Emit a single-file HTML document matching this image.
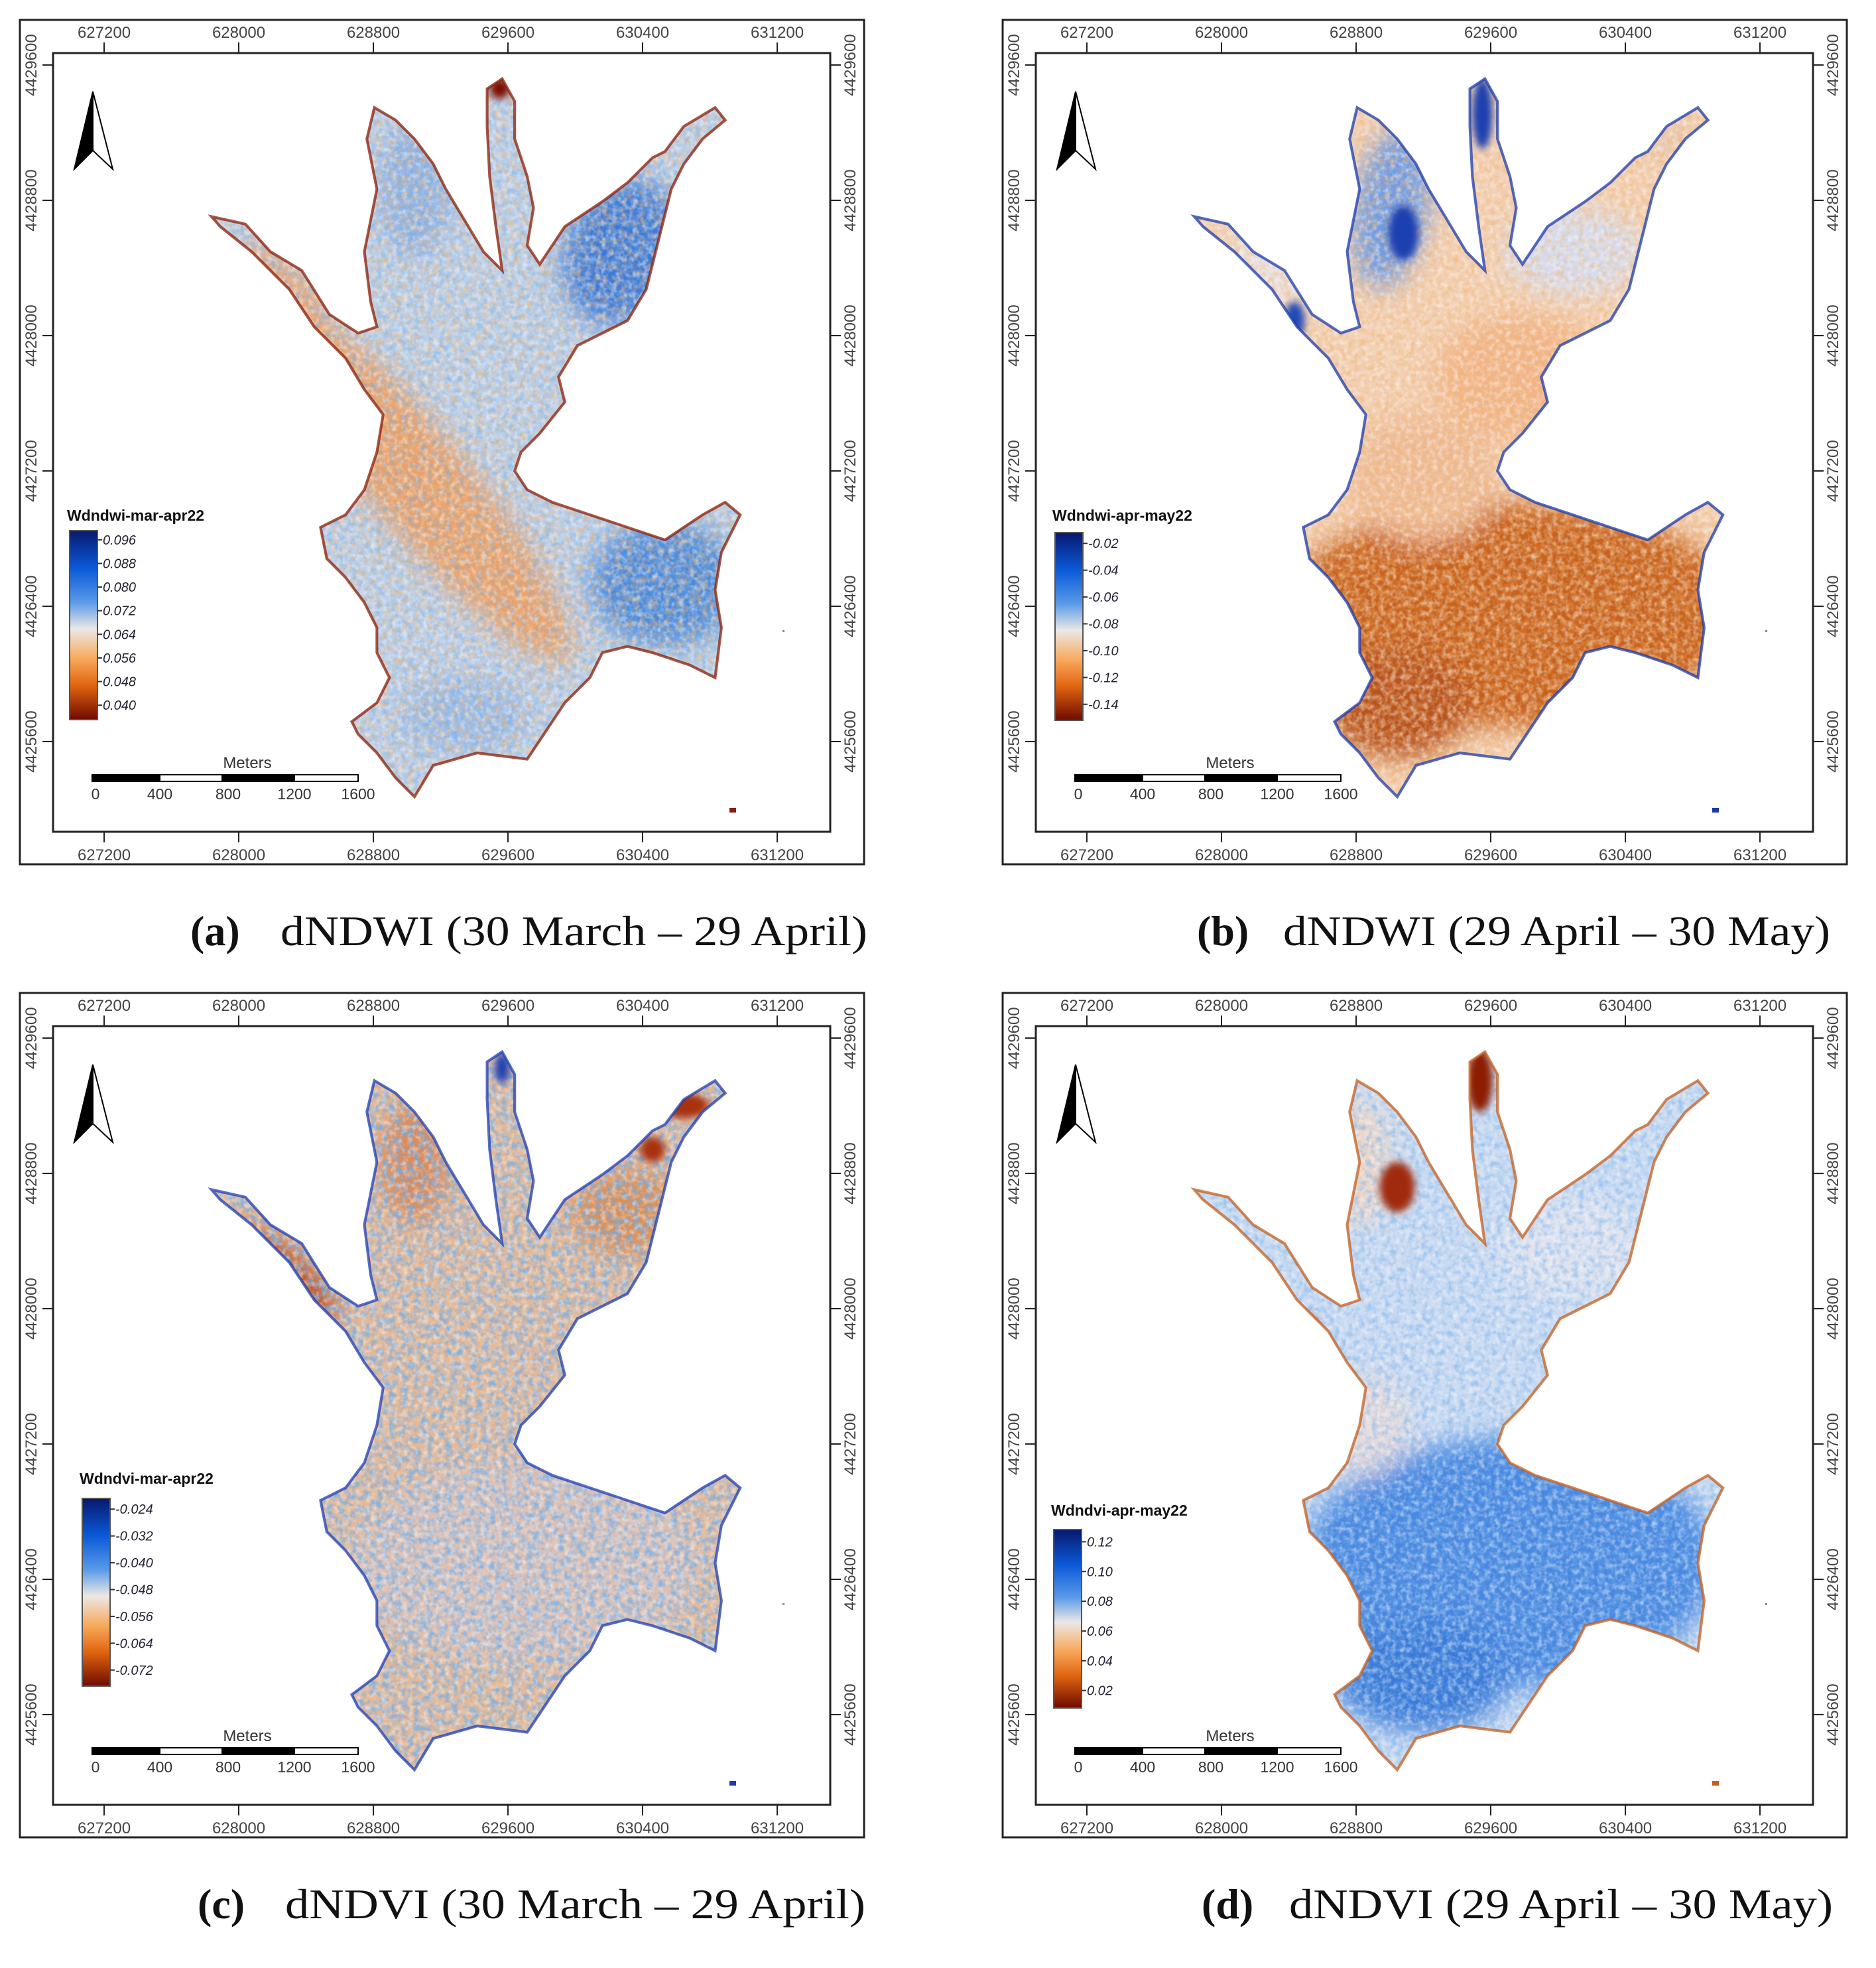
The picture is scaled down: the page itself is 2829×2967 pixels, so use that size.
<!DOCTYPE html>
<html><head><meta charset="utf-8"><style>
html,body{margin:0;padding:0;background:#fff}
svg{display:block}
text{font-family:"Liberation Sans",sans-serif}
.cap{font-family:"Liberation Serif",serif;font-size:64px;fill:#111}
</style></head><body>
<svg id="fig" width="2829" height="2967" viewBox="0 0 2829 2967" xmlns="http://www.w3.org/2000/svg">
<defs>
<filter id="blur" x="-50%" y="-50%" width="200%" height="200%"><feGaussianBlur stdDeviation="10"/></filter>
<filter id="blurS" x="-50%" y="-50%" width="200%" height="200%"><feGaussianBlur stdDeviation="3"/></filter>
<filter id="nBlue" x="0" y="0" width="100%" height="100%"><feTurbulence type="fractalNoise" baseFrequency="0.2" numOctaves="2" seed="3"/><feColorMatrix values="0 0 0 0 0.15 0 0 0 0 0.42 0 0 0 0 0.85 2.6 0 0 0 -1.05"/></filter>
<filter id="nOrange" x="0" y="0" width="100%" height="100%"><feTurbulence type="fractalNoise" baseFrequency="0.2" numOctaves="2" seed="9"/><feColorMatrix values="0 0 0 0 0.9 0 0 0 0 0.45 0 0 0 0 0.15 2.6 0 0 0 -1.05"/></filter>
<filter id="nWhite" x="0" y="0" width="100%" height="100%"><feTurbulence type="fractalNoise" baseFrequency="0.24" numOctaves="2" seed="17"/><feColorMatrix values="0 0 0 0 0.97 0 0 0 0 0.97 0 0 0 0 0.97 2.4 0 0 0 -1.0"/></filter>
<linearGradient id="cbar" x1="0" y1="0" x2="0" y2="1">
<stop offset="0" stop-color="#08186e"/><stop offset="0.2" stop-color="#0a5ad8"/><stop offset="0.38" stop-color="#5a9ae8"/><stop offset="0.52" stop-color="#ece8e6"/><stop offset="0.68" stop-color="#f7a85a"/><stop offset="0.82" stop-color="#e06410"/><stop offset="1" stop-color="#6e0a00"/>
</linearGradient>
</defs>
</svg>
<script>
// ---- data ----
const xTickLabels=["627200","628000","628800","629600","630400","631200"];
const yTickLabels=["4429600","4428800","4428000","4427200","4426400","4425600"];
const scaleLabels=["0","400","800","1200","1600"];
const legendTitles=["Wdndwi-mar-apr22","Wdndwi-apr-may22","Wdndvi-mar-apr22","Wdndvi-apr-may22"];
const legendA=["0.096","0.088","0.080","0.072","0.064","0.056","0.048","0.040"];
const legendB=["-0.02","-0.04","-0.06","-0.08","-0.10","-0.12","-0.14"];
const legendC=["-0.024","-0.032","-0.040","-0.048","-0.056","-0.064","-0.072"];
const legendD=["0.12","0.10","0.08","0.06","0.04","0.02"];
const capLetters=["(a)","(b)","(c)","(d)"];
const capTexts=["dNDWI (30 March \u2013 29 April)","dNDWI (29 April \u2013 30 May)","dNDVI (30 March \u2013 29 April)","dNDVI (29 April \u2013 30 May)"];

const NS="http://www.w3.org/2000/svg";
const svg=document.getElementById('fig');
function mk(tag,attrs,parent){const e=document.createElementNS(NS,tag);for(const k in attrs)e.setAttribute(k,attrs[k]);(parent||svg).appendChild(e);return e;}

const lake=[[168,172],[195,178],[215,200],[240,215],[262,250],[285,265],[300,260],[295,240],[290,200],[300,150],[292,110],[298,85],[315,95],[330,110],[345,130],[355,150],[370,175],[385,200],[400,215],[395,180],[390,140],[388,100],[388,70],[400,62],[410,80],[410,110],[420,140],[425,165],[420,195],[430,210],[450,180],[480,160],[500,145],[520,125],[530,120],[545,100],[570,85],[578,95],[560,110],[545,130],[535,150],[525,190],[515,230],[500,255],[480,265],[460,275],[445,300],[450,320],[430,345],[415,360],[410,375],[420,390],[440,400],[470,410],[500,420],[530,430],[560,410],[578,400],[590,410],[575,440],[570,470],[575,500],[570,540],[550,530],[520,520],[500,515],[480,520],[470,540],[450,560],[430,590],[420,605],[380,600],[345,610],[330,635],[315,620],[300,600],[285,585],[280,575],[300,560],[310,540],[300,520],[300,500],[290,480],[275,460],[260,445],[255,420],[275,410],[290,390],[300,360],[305,330],[290,310],[275,285],[250,260],[230,230],[200,200],[175,180]];
const lakePts=lake.map(p=>p.join(',')).join(' ');

const panels=[
 {dx:0,dy:0,base:'#bcd0ea',edge:'#8a1c06',noise:['nBlue','nOrange','nWhite'],
  blobs:[[495,200,45,60,20,'#3a78d8'],[530,465,60,50,0,'#4a88dc'],[330,380,190,40,50,'#eaa06a'],[225,225,45,15,40,'#e4a47c'],[370,570,50,30,0,'#9cbce8'],[330,150,28,55,0,'#8fb2e6']],
  spots:[[398,70,8,8,'#7a0c00']]},
 {dx:1482,dy:0,base:'#f2cfb2',edge:'#1a3aa8',noise:['nOrange','nWhite'],
  blobs:[[325,165,30,65,10,'#6f9ce4'],[470,200,55,35,0,'#d5dcef'],[230,210,40,20,40,'#e6e2e6'],[430,300,70,50,0,'#f1b58a'],[420,490,185,90,0,'#c8621e'],[330,560,60,45,0,'#b8521a'],[350,380,60,50,0,'#eebb96'],[545,110,25,15,0,'#e8c8b0']],
  spots:[[398,90,8,28,'#1c3fb0'],[335,185,12,22,'#1c3fb0'],[248,255,8,15,'#2048b8']]},
 {dx:0,dy:1467,base:'#e2b898',edge:'#1e3cb0',noise:['nBlue','nBlue','nWhite'],
  blobs:[[225,240,55,20,40,'#c0501e'],[330,150,28,50,0,'#dc8a58'],[500,190,45,35,0,'#dc9058'],[420,470,140,80,0,'#dcc0b4']],
  spots:[[400,75,6,12,'#2040b0'],[545,105,20,10,'#a8300c'],[520,140,10,10,'#a8300c']]},
 {dx:1482,dy:1467,base:'#cadaf1',edge:'#c25e1e',noise:['nBlue','nWhite'],
  blobs:[[420,470,165,100,0,'#4a88e0'],[350,560,70,45,0,'#3a7ad8'],[300,150,25,50,0,'#ecd6c8'],[470,220,60,40,0,'#dfe2ee'],[300,360,40,40,0,'#e6dada']],
  spots:[[396,85,10,25,'#8e1c06'],[330,170,14,20,'#a02c10'],[258,290,10,18,'#8e1e0a'],[262,320,8,12,'#2050c0']]}
];

panels.forEach((P,pi)=>{
  const g=mk('g',{transform:`translate(${P.dx},${P.dy})`});
  
  
  const of=mk('rect',{x:30,y:30,width:1273,height:1273,fill:'none',stroke:'#222','stroke-width':3},g);
  
  
  const mg=mk('g',{transform:'translate(30,30) scale(1.889) translate(-15,-15)'},g);
  
  
  const cp=mk('clipPath',{id:'clip'+pi},mg);
  mk('polygon',{points:lakePts},cp);
  const cg=mk('g',{'clip-path':`url(#clip${pi})`},mg);
  mk('rect',{x:150,y:50,width:460,height:600,fill:P.base},cg);
  const bg=mk('g',{filter:'url(#blur)'},cg);
  P.blobs.forEach(b=>{mk('ellipse',{cx:b[0],cy:b[1],rx:b[2],ry:b[3],fill:b[5],transform:`rotate(${b[4]} ${b[0]} ${b[1]})`},bg);});
  P.noise.forEach(n=>{mk('rect',{x:150,y:50,width:460,height:600,filter:`url(#${n})`,opacity:0.5},cg);});
  const sg=mk('g',{filter:'url(#blurS)'},cg);
  P.spots.forEach(s=>{mk('ellipse',{cx:s[0],cy:s[1],rx:s[2],ry:s[3],fill:s[4]},sg);});
  const outline=mk('polygon',{points:lakePts,fill:'none',stroke:P.edge,'stroke-width':2.2,opacity:0.75},mg);
  
  
  const inf=mk('rect',{x:80,y:80,width:1172,height:1174,fill:'none',stroke:'#222','stroke-width':3},g);
  
  
  xTickLabels.forEach((l,i)=>{
    const x=157+203*i;
    mk('line',{x1:x,y1:64,x2:x,y2:80,stroke:'#222','stroke-width':2},g);
    mk('line',{x1:x,y1:1254,x2:x,y2:1270,stroke:'#222','stroke-width':2},g);
    const t1=mk('text',{x:x,y:57,'font-size':24,'text-anchor':'middle',fill:'#444'},g);t1.textContent=l;
    
    
    const t2=mk('text',{x:x,y:1297,'font-size':24,'text-anchor':'middle',fill:'#444'},g);t2.textContent=l;
    
    
  });
  yTickLabels.forEach((l,i)=>{
    const y=98+204*i;
    mk('line',{x1:64,y1:y,x2:80,y2:y,stroke:'#222','stroke-width':2},g);
    mk('line',{x1:1252,y1:y,x2:1268,y2:y,stroke:'#222','stroke-width':2},g);
    const t1=mk('text',{x:0,y:0,'font-size':24,'text-anchor':'middle',fill:'#444',transform:`translate(55 ${y}) rotate(-90)`},g);t1.textContent=l;
    
    
    const t2=mk('text',{x:0,y:0,'font-size':24,'text-anchor':'middle',fill:'#444',transform:`translate(1290 ${y}) rotate(-90)`},g);t2.textContent=l;
    
    
  });
  const na=mk('g',{},g);
  
  
  mk('polygon',{points:'140,138 112,255 140,227',fill:'#000',stroke:'#000','stroke-width':2},na);
  mk('polygon',{points:'140,138 170,255 140,227',fill:'#fff',stroke:'#000','stroke-width':2},na);
  const sb=mk('g',{},g);
  
  
  const segs=[[139,241,'#000'],[241,335,'#fff'],[335,444,'#000'],[444,540,'#fff']];
  segs.forEach(s=>mk('rect',{x:s[0],y:1168,width:s[1]-s[0],height:10,fill:s[2],stroke:'#000','stroke-width':2},sb));
  const mt=mk('text',{x:373,y:1158,'font-size':24,'text-anchor':'middle',fill:'#333'},sb);mt.textContent='Meters';
  const sx=[139,241,344,444,540];
  scaleLabels.forEach((l,i)=>{const t=mk('text',{x:sx[i]+(i==0?5:0),y:1205,'font-size':23,'text-anchor':'middle',fill:'#333'},sb);t.textContent=l;});
  const L=[{x:105,t:800,b:1085,ty:785,labels:legendA},{x:109,t:803,b:1086,ty:785,labels:legendB},{x:124,t:792,b:1075,ty:770,labels:legendC},{x:107,t:839,b:1108,ty:818,labels:legendD}][pi];
  const lg=mk('g',{},g);
  
  
  const lt=mk('text',{x:L.x-4,y:L.ty,'font-size':23,'font-weight':'bold',fill:'#111'},lg);lt.textContent=legendTitles[pi];
  mk('rect',{x:L.x,y:L.t,width:42,height:L.b-L.t,fill:'url(#cbar)',stroke:'#555','stroke-width':2},lg);
  const n=L.labels.length, step=(L.b-L.t)/n;
  L.labels.forEach((l,i)=>{
    const y=L.t+step*(i+0.5)-4;
    mk('line',{x1:L.x+42,y1:y,x2:L.x+49,y2:y,stroke:'#333','stroke-width':2},lg);
    const t=mk('text',{x:L.x+50,y:y+7,'font-size':20,'font-style':'italic',fill:'#223'},lg);t.textContent=l;
  });
  mk('rect',{x:1100,y:1218,width:10,height:7,fill:P.edge},g);
  mk('rect',{x:1180,y:950,width:3,height:3,fill:'#888'},g);
});

const caps=[[287,423,1308,1425],[1805,1935,2760,1425],[298,430,1305,2892],[1812,1944,2764,2892]];
caps.forEach((c,i)=>{
  const a=mk('text',{x:c[0],y:c[3],'class':'cap','font-weight':'bold'});a.textContent=capLetters[i];
  
  
  const t=mk('text',{x:c[1],y:c[3],'class':'cap',textLength:c[2]-c[1],lengthAdjust:'spacingAndGlyphs'});t.textContent=capTexts[i];
  
  
});
</script>
</body></html>
